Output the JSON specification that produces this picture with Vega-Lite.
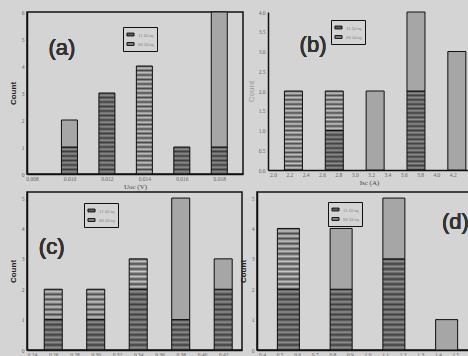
{
  "$schema": "https://vega.github.io/schema/vega-lite/v6.json",
  "autosize": {"type": "pad"},
  "padding": {"left": 8, "top": 9, "right": 0, "bottom": 0},
  "background": "#d4d4d4",
  "datasets": {
    "a": [
      {"x": 0.010, "grp": "11 Ω/sq", "n": 1},
      {"x": 0.010, "grp": "mixed", "n": 1},
      {"x": 0.012, "grp": "11 Ω/sq", "n": 3},
      {"x": 0.014, "grp": "86 Ω/sq", "n": 4},
      {"x": 0.016, "grp": "11 Ω/sq", "n": 1},
      {"x": 0.018, "grp": "11 Ω/sq", "n": 1},
      {"x": 0.018, "grp": "mixed", "n": 5}
    ],
    "b": [
      {"x": 2.25, "grp": "86 Ω/sq", "n": 2},
      {"x": 2.75, "grp": "11 Ω/sq", "n": 1},
      {"x": 2.75, "grp": "86 Ω/sq", "n": 1},
      {"x": 3.25, "grp": "mixed", "n": 2},
      {"x": 3.75, "grp": "11 Ω/sq", "n": 2},
      {"x": 3.75, "grp": "mixed", "n": 2},
      {"x": 4.25, "grp": "mixed", "n": 3}
    ],
    "c": [
      {"x": 0.26, "grp": "11 Ω/sq", "n": 1},
      {"x": 0.26, "grp": "86 Ω/sq", "n": 1},
      {"x": 0.30, "grp": "11 Ω/sq", "n": 1},
      {"x": 0.30, "grp": "86 Ω/sq", "n": 1},
      {"x": 0.34, "grp": "11 Ω/sq", "n": 2},
      {"x": 0.34, "grp": "86 Ω/sq", "n": 1},
      {"x": 0.38, "grp": "11 Ω/sq", "n": 1},
      {"x": 0.38, "grp": "mixed", "n": 4},
      {"x": 0.42, "grp": "11 Ω/sq", "n": 2},
      {"x": 0.42, "grp": "mixed", "n": 1}
    ],
    "d": [
      {"x": 0.55, "grp": "11 Ω/sq", "n": 2},
      {"x": 0.55, "grp": "86 Ω/sq", "n": 2},
      {"x": 0.85, "grp": "11 Ω/sq", "n": 2},
      {"x": 0.85, "grp": "mixed", "n": 2},
      {"x": 1.15, "grp": "11 Ω/sq", "n": 3},
      {"x": 1.15, "grp": "mixed", "n": 2},
      {"x": 1.45, "grp": "mixed", "n": 1}
    ]
  },
  "config": {
    "view": {"stroke": "#111", "strokeWidth": 1.5},
    "axis": {
      "domainColor": "#111", "domainWidth": 1.5,
      "tickColor": "#111", "tickSize": 0,
      "labelFont": "Liberation Serif", "labelFontSize": 5.5, "labelColor": "#666",
      "labelPadding": 2, "labelOverlap": false,
      "titleFont": "Liberation Serif", "titleFontSize": 7, "titleColor": "#444", "titleFontWeight": "normal",
      "titlePadding": 1,
      "grid": false
    },
    "axisY": {"titleFont": "Liberation Sans", "titleFontWeight": "bold", "titleFontSize": 8, "titleColor": "#222", "titlePadding": 4, "labelPadding": 3},
    "legend": {
      "orient": "none", "title": null,
      "strokeColor": "#111", "fillColor": "#d4d4d4", "padding": 3,
      "symbolType": "M-1,-0.4H1V0.4H-1Z", "symbolSize": 50,
      "symbolStrokeColor": "#111", "symbolStrokeWidth": 1,
      "labelFont": "Liberation Serif", "labelFontSize": 5, "labelColor": "#888",
      "rowPadding": 1.5, "labelOffset": 3
    }
  },
  "bounds": "full",
  "spacing": 0,
  "resolve": {"scale": {"color": "independent"}, "legend": {"color": "independent"}},
  "vconcat": [
    {
      "bounds": "flush",
      "spacing": 25,
      "resolve": {"scale": {"color": "independent"}, "legend": {"color": "independent"}},
      "hconcat": [
        {
          "width": 216, "height": 162,
          "data": {"name": "a"},
          "encoding": {
            "x": {"field": "x", "type": "quantitative", "scale": {"domain": [0.008, 0.019], "nice": false},
                  "axis": {"values": [0.008, 0.010, 0.012, 0.014, 0.016, 0.018], "format": ".3f", "title": "Uoc (V)"}},
            "y": {"field": "n", "type": "quantitative", "stack": "zero", "scale": {"domain": [0, 6], "nice": false},
                  "axis": {"values": [0, 1, 2, 3, 4, 5, 6], "title": "Count"}},
            "order": {"field": "grp", "type": "ordinal", "sort": "ascending"}
          },
          "layer": [
            {
              "mark": {"type": "bar", "size": 16},
              "encoding": {
                "color": {"field": "grp", "type": "nominal",
                          "scale": {"domain": ["11 Ω/sq", "86 Ω/sq", "mixed"], "range": ["#5e5e5e", "#858585", "#a6a6a6"]},
                          "legend": {"values": ["11 Ω/sq", "86 Ω/sq"], "legendX": 96, "legendY": 15}}
              }
            },
            {
              "mark": {"type": "bar", "size": 16, "stroke": "#111", "strokeWidth": 1},
              "encoding": {
                "detail": {"field": "grp"},
                "fill": {
                  "condition": [
                    {"test": "datum.grp === '11 Ω/sq' && datum.n === 1", "value": {"gradient": "linear", "x1": 0, "y1": 0, "x2": 0, "y2": 1, "stops": [
                      {"offset": 0, "color": "#3e3e3e"}, {"offset": 0.0833, "color": "#8e8e8e"}, {"offset": 0.1667, "color": "#3e3e3e"}, {"offset": 0.25, "color": "#8e8e8e"}, {"offset": 0.3333, "color": "#3e3e3e"}, {"offset": 0.4167, "color": "#8e8e8e"}, {"offset": 0.5, "color": "#3e3e3e"}, {"offset": 0.5833, "color": "#8e8e8e"}, {"offset": 0.6667, "color": "#3e3e3e"}, {"offset": 0.75, "color": "#8e8e8e"}, {"offset": 0.8333, "color": "#3e3e3e"}, {"offset": 0.9167, "color": "#8e8e8e"}, {"offset": 1, "color": "#3e3e3e"}]}},
                    {"test": "datum.grp === '11 Ω/sq' && datum.n === 3", "value": {"gradient": "linear", "x1": 0, "y1": 0, "x2": 0, "y2": 1, "stops": [
                      {"offset": 0, "color": "#3e3e3e"}, {"offset": 0.0278, "color": "#8e8e8e"}, {"offset": 0.0556, "color": "#3e3e3e"}, {"offset": 0.0833, "color": "#8e8e8e"}, {"offset": 0.1111, "color": "#3e3e3e"}, {"offset": 0.1389, "color": "#8e8e8e"}, {"offset": 0.1667, "color": "#3e3e3e"}, {"offset": 0.1944, "color": "#8e8e8e"}, {"offset": 0.2222, "color": "#3e3e3e"}, {"offset": 0.25, "color": "#8e8e8e"}, {"offset": 0.2778, "color": "#3e3e3e"}, {"offset": 0.3056, "color": "#8e8e8e"}, {"offset": 0.3333, "color": "#3e3e3e"}, {"offset": 0.3611, "color": "#8e8e8e"}, {"offset": 0.3889, "color": "#3e3e3e"}, {"offset": 0.4167, "color": "#8e8e8e"}, {"offset": 0.4444, "color": "#3e3e3e"}, {"offset": 0.4722, "color": "#8e8e8e"}, {"offset": 0.5, "color": "#3e3e3e"}, {"offset": 0.5278, "color": "#8e8e8e"}, {"offset": 0.5556, "color": "#3e3e3e"}, {"offset": 0.5833, "color": "#8e8e8e"}, {"offset": 0.6111, "color": "#3e3e3e"}, {"offset": 0.6389, "color": "#8e8e8e"}, {"offset": 0.6667, "color": "#3e3e3e"}, {"offset": 0.6944, "color": "#8e8e8e"}, {"offset": 0.7222, "color": "#3e3e3e"}, {"offset": 0.75, "color": "#8e8e8e"}, {"offset": 0.7778, "color": "#3e3e3e"}, {"offset": 0.8056, "color": "#8e8e8e"}, {"offset": 0.8333, "color": "#3e3e3e"}, {"offset": 0.8611, "color": "#8e8e8e"}, {"offset": 0.8889, "color": "#3e3e3e"}, {"offset": 0.9167, "color": "#8e8e8e"}, {"offset": 0.9444, "color": "#3e3e3e"}, {"offset": 0.9722, "color": "#8e8e8e"}, {"offset": 1, "color": "#3e3e3e"}]}},
                    {"test": "datum.grp === '86 Ω/sq'", "value": {"gradient": "linear", "x1": 0, "y1": 0, "x2": 0, "y2": 1, "stops": [
                      {"offset": 0, "color": "#4a4a4a"}, {"offset": 0.0208, "color": "#c6c6c6"}, {"offset": 0.0417, "color": "#4a4a4a"}, {"offset": 0.0625, "color": "#c6c6c6"}, {"offset": 0.0833, "color": "#4a4a4a"}, {"offset": 0.1042, "color": "#c6c6c6"}, {"offset": 0.125, "color": "#4a4a4a"}, {"offset": 0.1458, "color": "#c6c6c6"}, {"offset": 0.1667, "color": "#4a4a4a"}, {"offset": 0.1875, "color": "#c6c6c6"}, {"offset": 0.2083, "color": "#4a4a4a"}, {"offset": 0.2292, "color": "#c6c6c6"}, {"offset": 0.25, "color": "#4a4a4a"}, {"offset": 0.2708, "color": "#c6c6c6"}, {"offset": 0.2917, "color": "#4a4a4a"}, {"offset": 0.3125, "color": "#c6c6c6"}, {"offset": 0.3333, "color": "#4a4a4a"}, {"offset": 0.3542, "color": "#c6c6c6"}, {"offset": 0.375, "color": "#4a4a4a"}, {"offset": 0.3958, "color": "#c6c6c6"}, {"offset": 0.4167, "color": "#4a4a4a"}, {"offset": 0.4375, "color": "#c6c6c6"}, {"offset": 0.4583, "color": "#4a4a4a"}, {"offset": 0.4792, "color": "#c6c6c6"}, {"offset": 0.5, "color": "#4a4a4a"}, {"offset": 0.5208, "color": "#c6c6c6"}, {"offset": 0.5417, "color": "#4a4a4a"}, {"offset": 0.5625, "color": "#c6c6c6"}, {"offset": 0.5833, "color": "#4a4a4a"}, {"offset": 0.6042, "color": "#c6c6c6"}, {"offset": 0.625, "color": "#4a4a4a"}, {"offset": 0.6458, "color": "#c6c6c6"}, {"offset": 0.6667, "color": "#4a4a4a"}, {"offset": 0.6875, "color": "#c6c6c6"}, {"offset": 0.7083, "color": "#4a4a4a"}, {"offset": 0.7292, "color": "#c6c6c6"}, {"offset": 0.75, "color": "#4a4a4a"}, {"offset": 0.7708, "color": "#c6c6c6"}, {"offset": 0.7917, "color": "#4a4a4a"}, {"offset": 0.8125, "color": "#c6c6c6"}, {"offset": 0.8333, "color": "#4a4a4a"}, {"offset": 0.8542, "color": "#c6c6c6"}, {"offset": 0.875, "color": "#4a4a4a"}, {"offset": 0.8958, "color": "#c6c6c6"}, {"offset": 0.9167, "color": "#4a4a4a"}, {"offset": 0.9375, "color": "#c6c6c6"}, {"offset": 0.9583, "color": "#4a4a4a"}, {"offset": 0.9792, "color": "#c6c6c6"}, {"offset": 1, "color": "#4a4a4a"}]}}
                  ],
                  "value": "#a6a6a6"
                }
              }
            },
            {
              "mark": {"type": "text", "text": "(a)", "font": "Liberation Sans", "fontSize": 22, "color": "#333"},
              "encoding": {
                "x": {"datum": 0.0096, "axis": {"values": [0.008, 0.010, 0.012, 0.014, 0.016, 0.018], "format": ".3f", "title": "Uoc (V)"}},
                "y": {"datum": 4.67, "axis": {"values": [0, 1, 2, 3, 4, 5, 6], "title": "Count"}}
              }
            }
          ]
        },
        {
          "width": 202, "height": 158,
          "view": {"stroke": null},
          "data": {"name": "b"},
          "encoding": {
            "x": {"field": "x", "type": "quantitative", "scale": {"domain": [2.0, 4.35], "nice": false},
                  "axis": {"values": [2.0, 2.2, 2.4, 2.6, 2.8, 3.0, 3.2, 3.4, 3.6, 3.8, 4.0, 4.2], "format": ".1f", "title": "Isc (A)"}},
            "y": {"field": "n", "type": "quantitative", "stack": "zero", "scale": {"domain": [0, 4], "nice": false},
                  "axis": {"values": [0, 0.5, 1, 1.5, 2, 2.5, 3, 3.5, 4], "format": ".1f", "title": "Count", "titleColor": "#999", "titleFontWeight": "normal", "titlePadding": 3}},
            "order": {"field": "grp", "type": "ordinal", "sort": "ascending"}
          },
          "layer": [
            {
              "mark": {"type": "bar", "size": 18},
              "encoding": {
                "color": {"field": "grp", "type": "nominal",
                          "scale": {"domain": ["11 Ω/sq", "86 Ω/sq", "mixed"], "range": ["#5e5e5e", "#858585", "#a6a6a6"]},
                          "legend": {"values": ["11 Ω/sq", "86 Ω/sq"], "legendX": 63, "legendY": 8}}
              }
            },
            {
              "mark": {"type": "bar", "size": 18, "stroke": "#111", "strokeWidth": 1},
              "encoding": {
                "detail": {"field": "grp"},
                "fill": {
                  "condition": [
                    {"test": "datum.grp === '11 Ω/sq' && datum.n === 1", "value": {"gradient": "linear", "x1": 0, "y1": 0, "x2": 0, "y2": 1, "stops": [
                      {"offset": 0, "color": "#3e3e3e"}, {"offset": 0.0556, "color": "#8e8e8e"}, {"offset": 0.1111, "color": "#3e3e3e"}, {"offset": 0.1667, "color": "#8e8e8e"}, {"offset": 0.2222, "color": "#3e3e3e"}, {"offset": 0.2778, "color": "#8e8e8e"}, {"offset": 0.3333, "color": "#3e3e3e"}, {"offset": 0.3889, "color": "#8e8e8e"}, {"offset": 0.4444, "color": "#3e3e3e"}, {"offset": 0.5, "color": "#8e8e8e"}, {"offset": 0.5556, "color": "#3e3e3e"}, {"offset": 0.6111, "color": "#8e8e8e"}, {"offset": 0.6667, "color": "#3e3e3e"}, {"offset": 0.7222, "color": "#8e8e8e"}, {"offset": 0.7778, "color": "#3e3e3e"}, {"offset": 0.8333, "color": "#8e8e8e"}, {"offset": 0.8889, "color": "#3e3e3e"}, {"offset": 0.9444, "color": "#8e8e8e"}, {"offset": 1, "color": "#3e3e3e"}]}},
                    {"test": "datum.grp === '86 Ω/sq' && datum.n === 1", "value": {"gradient": "linear", "x1": 0, "y1": 0, "x2": 0, "y2": 1, "stops": [
                      {"offset": 0, "color": "#4a4a4a"}, {"offset": 0.0556, "color": "#c6c6c6"}, {"offset": 0.1111, "color": "#4a4a4a"}, {"offset": 0.1667, "color": "#c6c6c6"}, {"offset": 0.2222, "color": "#4a4a4a"}, {"offset": 0.2778, "color": "#c6c6c6"}, {"offset": 0.3333, "color": "#4a4a4a"}, {"offset": 0.3889, "color": "#c6c6c6"}, {"offset": 0.4444, "color": "#4a4a4a"}, {"offset": 0.5, "color": "#c6c6c6"}, {"offset": 0.5556, "color": "#4a4a4a"}, {"offset": 0.6111, "color": "#c6c6c6"}, {"offset": 0.6667, "color": "#4a4a4a"}, {"offset": 0.7222, "color": "#c6c6c6"}, {"offset": 0.7778, "color": "#4a4a4a"}, {"offset": 0.8333, "color": "#c6c6c6"}, {"offset": 0.8889, "color": "#4a4a4a"}, {"offset": 0.9444, "color": "#c6c6c6"}, {"offset": 1, "color": "#4a4a4a"}]}},
                    {"test": "datum.grp === '11 Ω/sq' && datum.n === 2", "value": {"gradient": "linear", "x1": 0, "y1": 0, "x2": 0, "y2": 1, "stops": [
                      {"offset": 0, "color": "#3e3e3e"}, {"offset": 0.0278, "color": "#8e8e8e"}, {"offset": 0.0556, "color": "#3e3e3e"}, {"offset": 0.0833, "color": "#8e8e8e"}, {"offset": 0.1111, "color": "#3e3e3e"}, {"offset": 0.1389, "color": "#8e8e8e"}, {"offset": 0.1667, "color": "#3e3e3e"}, {"offset": 0.1944, "color": "#8e8e8e"}, {"offset": 0.2222, "color": "#3e3e3e"}, {"offset": 0.25, "color": "#8e8e8e"}, {"offset": 0.2778, "color": "#3e3e3e"}, {"offset": 0.3056, "color": "#8e8e8e"}, {"offset": 0.3333, "color": "#3e3e3e"}, {"offset": 0.3611, "color": "#8e8e8e"}, {"offset": 0.3889, "color": "#3e3e3e"}, {"offset": 0.4167, "color": "#8e8e8e"}, {"offset": 0.4444, "color": "#3e3e3e"}, {"offset": 0.4722, "color": "#8e8e8e"}, {"offset": 0.5, "color": "#3e3e3e"}, {"offset": 0.5278, "color": "#8e8e8e"}, {"offset": 0.5556, "color": "#3e3e3e"}, {"offset": 0.5833, "color": "#8e8e8e"}, {"offset": 0.6111, "color": "#3e3e3e"}, {"offset": 0.6389, "color": "#8e8e8e"}, {"offset": 0.6667, "color": "#3e3e3e"}, {"offset": 0.6944, "color": "#8e8e8e"}, {"offset": 0.7222, "color": "#3e3e3e"}, {"offset": 0.75, "color": "#8e8e8e"}, {"offset": 0.7778, "color": "#3e3e3e"}, {"offset": 0.8056, "color": "#8e8e8e"}, {"offset": 0.8333, "color": "#3e3e3e"}, {"offset": 0.8611, "color": "#8e8e8e"}, {"offset": 0.8889, "color": "#3e3e3e"}, {"offset": 0.9167, "color": "#8e8e8e"}, {"offset": 0.9444, "color": "#3e3e3e"}, {"offset": 0.9722, "color": "#8e8e8e"}, {"offset": 1, "color": "#3e3e3e"}]}},
                    {"test": "datum.grp === '86 Ω/sq' && datum.n === 2", "value": {"gradient": "linear", "x1": 0, "y1": 0, "x2": 0, "y2": 1, "stops": [
                      {"offset": 0, "color": "#4a4a4a"}, {"offset": 0.0278, "color": "#c6c6c6"}, {"offset": 0.0556, "color": "#4a4a4a"}, {"offset": 0.0833, "color": "#c6c6c6"}, {"offset": 0.1111, "color": "#4a4a4a"}, {"offset": 0.1389, "color": "#c6c6c6"}, {"offset": 0.1667, "color": "#4a4a4a"}, {"offset": 0.1944, "color": "#c6c6c6"}, {"offset": 0.2222, "color": "#4a4a4a"}, {"offset": 0.25, "color": "#c6c6c6"}, {"offset": 0.2778, "color": "#4a4a4a"}, {"offset": 0.3056, "color": "#c6c6c6"}, {"offset": 0.3333, "color": "#4a4a4a"}, {"offset": 0.3611, "color": "#c6c6c6"}, {"offset": 0.3889, "color": "#4a4a4a"}, {"offset": 0.4167, "color": "#c6c6c6"}, {"offset": 0.4444, "color": "#4a4a4a"}, {"offset": 0.4722, "color": "#c6c6c6"}, {"offset": 0.5, "color": "#4a4a4a"}, {"offset": 0.5278, "color": "#c6c6c6"}, {"offset": 0.5556, "color": "#4a4a4a"}, {"offset": 0.5833, "color": "#c6c6c6"}, {"offset": 0.6111, "color": "#4a4a4a"}, {"offset": 0.6389, "color": "#c6c6c6"}, {"offset": 0.6667, "color": "#4a4a4a"}, {"offset": 0.6944, "color": "#c6c6c6"}, {"offset": 0.7222, "color": "#4a4a4a"}, {"offset": 0.75, "color": "#c6c6c6"}, {"offset": 0.7778, "color": "#4a4a4a"}, {"offset": 0.8056, "color": "#c6c6c6"}, {"offset": 0.8333, "color": "#4a4a4a"}, {"offset": 0.8611, "color": "#c6c6c6"}, {"offset": 0.8889, "color": "#4a4a4a"}, {"offset": 0.9167, "color": "#c6c6c6"}, {"offset": 0.9444, "color": "#4a4a4a"}, {"offset": 0.9722, "color": "#c6c6c6"}, {"offset": 1, "color": "#4a4a4a"}]}}
                  ],
                  "value": "#a6a6a6"
                }
              }
            },
            {
              "mark": {"type": "text", "text": "(b)", "font": "Liberation Sans", "fontSize": 22, "color": "#333"},
              "encoding": {
                "x": {"datum": 2.49, "axis": {"values": [2.0, 2.2, 2.4, 2.6, 2.8, 3.0, 3.2, 3.4, 3.6, 3.8, 4.0, 4.2], "format": ".1f", "title": "Isc (A)"}},
                "y": {"datum": 3.16, "axis": {"values": [0, 0.5, 1, 1.5, 2, 2.5, 3, 3.5, 4], "format": ".1f", "title": "Count", "titleColor": "#999", "titleFontWeight": "normal", "titlePadding": 3}}
              }
            }
          ]
        }
      ]
    },
    {
      "bounds": "flush",
      "spacing": 15,
      "resolve": {"scale": {"color": "independent"}, "legend": {"color": "independent"}},
      "hconcat": [
        {
          "width": 215, "height": 158,
          "data": {"name": "c"},
          "encoding": {
            "x": {"field": "x", "type": "quantitative", "scale": {"domain": [0.24, 0.433], "nice": false},
                  "axis": {"values": [0.24, 0.26, 0.28, 0.30, 0.32, 0.34, 0.36, 0.38, 0.40, 0.42], "format": ".2f", "title": "FF"}},
            "y": {"field": "n", "type": "quantitative", "stack": "zero", "scale": {"domain": [0, 5.2], "nice": false},
                  "axis": {"values": [0, 1, 2, 3, 4, 5], "title": "Count"}},
            "order": {"field": "grp", "type": "ordinal", "sort": "ascending"}
          },
          "layer": [
            {
              "mark": {"type": "bar", "size": 18},
              "encoding": {
                "color": {"field": "grp", "type": "nominal",
                          "scale": {"domain": ["11 Ω/sq", "86 Ω/sq", "mixed"], "range": ["#5e5e5e", "#858585", "#a6a6a6"]},
                          "legend": {"values": ["11 Ω/sq", "86 Ω/sq"], "legendX": 57, "legendY": 11}}
              }
            },
            {
              "mark": {"type": "bar", "size": 18, "stroke": "#111", "strokeWidth": 1},
              "encoding": {
                "detail": {"field": "grp"},
                "fill": {
                  "condition": [
                    {"test": "datum.grp === '11 Ω/sq' && datum.n === 1", "value": {"gradient": "linear", "x1": 0, "y1": 0, "x2": 0, "y2": 1, "stops": [
                      {"offset": 0, "color": "#3e3e3e"}, {"offset": 0.0833, "color": "#8e8e8e"}, {"offset": 0.1667, "color": "#3e3e3e"}, {"offset": 0.25, "color": "#8e8e8e"}, {"offset": 0.3333, "color": "#3e3e3e"}, {"offset": 0.4167, "color": "#8e8e8e"}, {"offset": 0.5, "color": "#3e3e3e"}, {"offset": 0.5833, "color": "#8e8e8e"}, {"offset": 0.6667, "color": "#3e3e3e"}, {"offset": 0.75, "color": "#8e8e8e"}, {"offset": 0.8333, "color": "#3e3e3e"}, {"offset": 0.9167, "color": "#8e8e8e"}, {"offset": 1, "color": "#3e3e3e"}]}},
                    {"test": "datum.grp === '86 Ω/sq' && datum.n === 1", "value": {"gradient": "linear", "x1": 0, "y1": 0, "x2": 0, "y2": 1, "stops": [
                      {"offset": 0, "color": "#4a4a4a"}, {"offset": 0.0833, "color": "#c6c6c6"}, {"offset": 0.1667, "color": "#4a4a4a"}, {"offset": 0.25, "color": "#c6c6c6"}, {"offset": 0.3333, "color": "#4a4a4a"}, {"offset": 0.4167, "color": "#c6c6c6"}, {"offset": 0.5, "color": "#4a4a4a"}, {"offset": 0.5833, "color": "#c6c6c6"}, {"offset": 0.6667, "color": "#4a4a4a"}, {"offset": 0.75, "color": "#c6c6c6"}, {"offset": 0.8333, "color": "#4a4a4a"}, {"offset": 0.9167, "color": "#c6c6c6"}, {"offset": 1, "color": "#4a4a4a"}]}},
                    {"test": "datum.grp === '11 Ω/sq' && datum.n === 2", "value": {"gradient": "linear", "x1": 0, "y1": 0, "x2": 0, "y2": 1, "stops": [
                      {"offset": 0, "color": "#3e3e3e"}, {"offset": 0.0417, "color": "#8e8e8e"}, {"offset": 0.0833, "color": "#3e3e3e"}, {"offset": 0.125, "color": "#8e8e8e"}, {"offset": 0.1667, "color": "#3e3e3e"}, {"offset": 0.2083, "color": "#8e8e8e"}, {"offset": 0.25, "color": "#3e3e3e"}, {"offset": 0.2917, "color": "#8e8e8e"}, {"offset": 0.3333, "color": "#3e3e3e"}, {"offset": 0.375, "color": "#8e8e8e"}, {"offset": 0.4167, "color": "#3e3e3e"}, {"offset": 0.4583, "color": "#8e8e8e"}, {"offset": 0.5, "color": "#3e3e3e"}, {"offset": 0.5417, "color": "#8e8e8e"}, {"offset": 0.5833, "color": "#3e3e3e"}, {"offset": 0.625, "color": "#8e8e8e"}, {"offset": 0.6667, "color": "#3e3e3e"}, {"offset": 0.7083, "color": "#8e8e8e"}, {"offset": 0.75, "color": "#3e3e3e"}, {"offset": 0.7917, "color": "#8e8e8e"}, {"offset": 0.8333, "color": "#3e3e3e"}, {"offset": 0.875, "color": "#8e8e8e"}, {"offset": 0.9167, "color": "#3e3e3e"}, {"offset": 0.9583, "color": "#8e8e8e"}, {"offset": 1, "color": "#3e3e3e"}]}}
                  ],
                  "value": "#a6a6a6"
                }
              }
            },
            {
              "mark": {"type": "text", "text": "(c)", "font": "Liberation Sans", "fontSize": 22, "color": "#333"},
              "encoding": {
                "x": {"datum": 0.2585, "axis": {"values": [0.24, 0.26, 0.28, 0.30, 0.32, 0.34, 0.36, 0.38, 0.40, 0.42], "format": ".2f", "title": "FF"}},
                "y": {"datum": 3.4, "axis": {"values": [0, 1, 2, 3, 4, 5], "title": "Count"}}
              }
            }
          ]
        },
        {
          "width": 221, "height": 158,
          "data": {"name": "d"},
          "encoding": {
            "x": {"field": "x", "type": "quantitative", "scale": {"domain": [0.4, 1.6], "nice": false},
                  "axis": {"values": [0.4, 0.5, 0.6, 0.7, 0.8, 0.9, 1.0, 1.1, 1.2, 1.3, 1.4, 1.5, 1.6], "format": ".1f", "title": "η (%)"}},
            "y": {"field": "n", "type": "quantitative", "stack": "zero", "scale": {"domain": [0, 5.2], "nice": false},
                  "axis": {"values": [0, 1, 2, 3, 4, 5], "title": "Count"}},
            "order": {"field": "grp", "type": "ordinal", "sort": "ascending"}
          },
          "layer": [
            {
              "mark": {"type": "bar", "size": 22},
              "encoding": {
                "color": {"field": "grp", "type": "nominal",
                          "scale": {"domain": ["11 Ω/sq", "86 Ω/sq", "mixed"], "range": ["#5e5e5e", "#858585", "#a6a6a6"]},
                          "legend": {"values": ["11 Ω/sq", "86 Ω/sq"], "legendX": 71, "legendY": 10}}
              }
            },
            {
              "mark": {"type": "bar", "size": 22, "stroke": "#111", "strokeWidth": 1},
              "encoding": {
                "detail": {"field": "grp"},
                "fill": {
                  "condition": [
                    {"test": "datum.grp === '11 Ω/sq' && datum.n === 2", "value": {"gradient": "linear", "x1": 0, "y1": 0, "x2": 0, "y2": 1, "stops": [
                      {"offset": 0, "color": "#3e3e3e"}, {"offset": 0.0417, "color": "#8e8e8e"}, {"offset": 0.0833, "color": "#3e3e3e"}, {"offset": 0.125, "color": "#8e8e8e"}, {"offset": 0.1667, "color": "#3e3e3e"}, {"offset": 0.2083, "color": "#8e8e8e"}, {"offset": 0.25, "color": "#3e3e3e"}, {"offset": 0.2917, "color": "#8e8e8e"}, {"offset": 0.3333, "color": "#3e3e3e"}, {"offset": 0.375, "color": "#8e8e8e"}, {"offset": 0.4167, "color": "#3e3e3e"}, {"offset": 0.4583, "color": "#8e8e8e"}, {"offset": 0.5, "color": "#3e3e3e"}, {"offset": 0.5417, "color": "#8e8e8e"}, {"offset": 0.5833, "color": "#3e3e3e"}, {"offset": 0.625, "color": "#8e8e8e"}, {"offset": 0.6667, "color": "#3e3e3e"}, {"offset": 0.7083, "color": "#8e8e8e"}, {"offset": 0.75, "color": "#3e3e3e"}, {"offset": 0.7917, "color": "#8e8e8e"}, {"offset": 0.8333, "color": "#3e3e3e"}, {"offset": 0.875, "color": "#8e8e8e"}, {"offset": 0.9167, "color": "#3e3e3e"}, {"offset": 0.9583, "color": "#8e8e8e"}, {"offset": 1, "color": "#3e3e3e"}]}},
                    {"test": "datum.grp === '86 Ω/sq' && datum.n === 2", "value": {"gradient": "linear", "x1": 0, "y1": 0, "x2": 0, "y2": 1, "stops": [
                      {"offset": 0, "color": "#4a4a4a"}, {"offset": 0.0417, "color": "#c6c6c6"}, {"offset": 0.0833, "color": "#4a4a4a"}, {"offset": 0.125, "color": "#c6c6c6"}, {"offset": 0.1667, "color": "#4a4a4a"}, {"offset": 0.2083, "color": "#c6c6c6"}, {"offset": 0.25, "color": "#4a4a4a"}, {"offset": 0.2917, "color": "#c6c6c6"}, {"offset": 0.3333, "color": "#4a4a4a"}, {"offset": 0.375, "color": "#c6c6c6"}, {"offset": 0.4167, "color": "#4a4a4a"}, {"offset": 0.4583, "color": "#c6c6c6"}, {"offset": 0.5, "color": "#4a4a4a"}, {"offset": 0.5417, "color": "#c6c6c6"}, {"offset": 0.5833, "color": "#4a4a4a"}, {"offset": 0.625, "color": "#c6c6c6"}, {"offset": 0.6667, "color": "#4a4a4a"}, {"offset": 0.7083, "color": "#c6c6c6"}, {"offset": 0.75, "color": "#4a4a4a"}, {"offset": 0.7917, "color": "#c6c6c6"}, {"offset": 0.8333, "color": "#4a4a4a"}, {"offset": 0.875, "color": "#c6c6c6"}, {"offset": 0.9167, "color": "#4a4a4a"}, {"offset": 0.9583, "color": "#c6c6c6"}, {"offset": 1, "color": "#4a4a4a"}]}},
                    {"test": "datum.grp === '11 Ω/sq' && datum.n === 3", "value": {"gradient": "linear", "x1": 0, "y1": 0, "x2": 0, "y2": 1, "stops": [
                      {"offset": 0, "color": "#3e3e3e"}, {"offset": 0.0278, "color": "#8e8e8e"}, {"offset": 0.0556, "color": "#3e3e3e"}, {"offset": 0.0833, "color": "#8e8e8e"}, {"offset": 0.1111, "color": "#3e3e3e"}, {"offset": 0.1389, "color": "#8e8e8e"}, {"offset": 0.1667, "color": "#3e3e3e"}, {"offset": 0.1944, "color": "#8e8e8e"}, {"offset": 0.2222, "color": "#3e3e3e"}, {"offset": 0.25, "color": "#8e8e8e"}, {"offset": 0.2778, "color": "#3e3e3e"}, {"offset": 0.3056, "color": "#8e8e8e"}, {"offset": 0.3333, "color": "#3e3e3e"}, {"offset": 0.3611, "color": "#8e8e8e"}, {"offset": 0.3889, "color": "#3e3e3e"}, {"offset": 0.4167, "color": "#8e8e8e"}, {"offset": 0.4444, "color": "#3e3e3e"}, {"offset": 0.4722, "color": "#8e8e8e"}, {"offset": 0.5, "color": "#3e3e3e"}, {"offset": 0.5278, "color": "#8e8e8e"}, {"offset": 0.5556, "color": "#3e3e3e"}, {"offset": 0.5833, "color": "#8e8e8e"}, {"offset": 0.6111, "color": "#3e3e3e"}, {"offset": 0.6389, "color": "#8e8e8e"}, {"offset": 0.6667, "color": "#3e3e3e"}, {"offset": 0.6944, "color": "#8e8e8e"}, {"offset": 0.7222, "color": "#3e3e3e"}, {"offset": 0.75, "color": "#8e8e8e"}, {"offset": 0.7778, "color": "#3e3e3e"}, {"offset": 0.8056, "color": "#8e8e8e"}, {"offset": 0.8333, "color": "#3e3e3e"}, {"offset": 0.8611, "color": "#8e8e8e"}, {"offset": 0.8889, "color": "#3e3e3e"}, {"offset": 0.9167, "color": "#8e8e8e"}, {"offset": 0.9444, "color": "#3e3e3e"}, {"offset": 0.9722, "color": "#8e8e8e"}, {"offset": 1, "color": "#3e3e3e"}]}}
                  ],
                  "value": "#a6a6a6"
                }
              }
            },
            {
              "mark": {"type": "text", "text": "(d)", "font": "Liberation Sans", "fontSize": 22, "color": "#333"},
              "encoding": {
                "x": {"datum": 1.50, "axis": {"values": [0.4, 0.5, 0.6, 0.7, 0.8, 0.9, 1.0, 1.1, 1.2, 1.3, 1.4, 1.5, 1.6], "format": ".1f", "title": "η (%)"}},
                "y": {"datum": 4.2, "axis": {"values": [0, 1, 2, 3, 4, 5], "title": "Count"}}
              }
            }
          ]
        }
      ]
    }
  ]
}
